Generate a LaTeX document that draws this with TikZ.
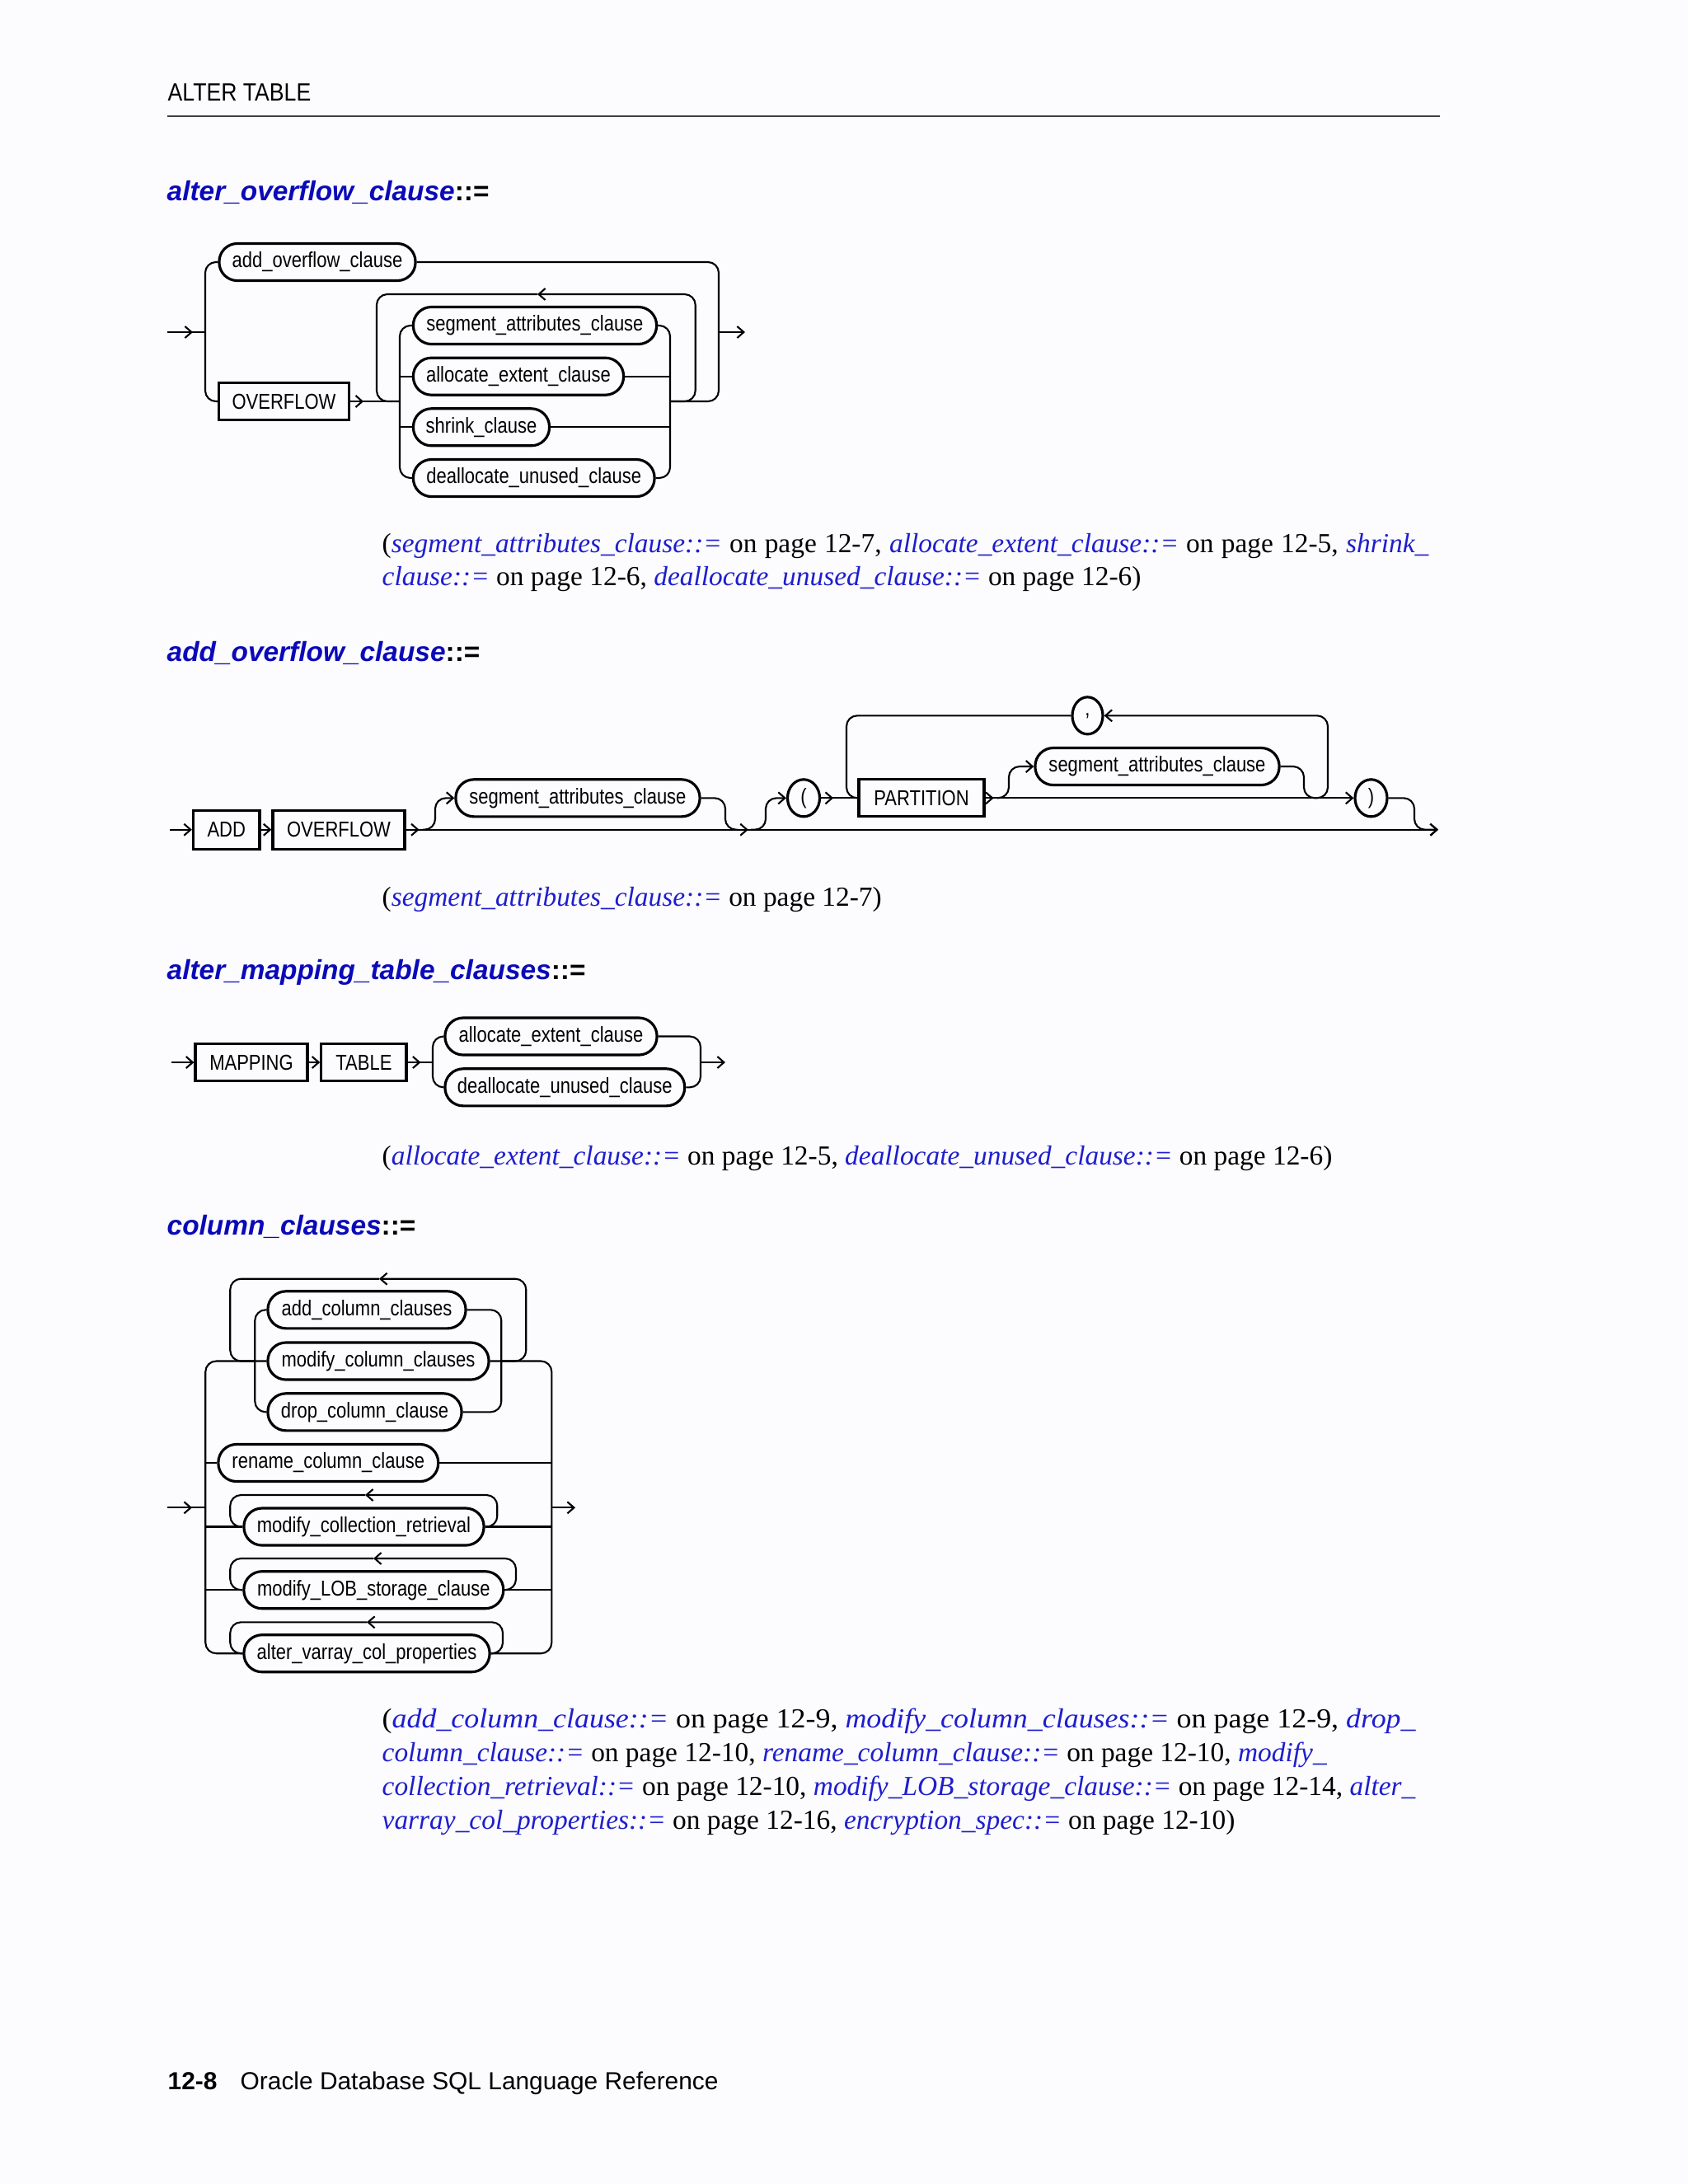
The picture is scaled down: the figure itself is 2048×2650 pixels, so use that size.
\documentclass[tikz,border=0pt]{standalone}
\usepackage{fontspec}
\usepackage{graphicx}
\setmainfont{Liberation Serif}
\newfontfamily\dfont[FakeStretch=0.84]{Liberation Sans}
\newfontfamily\nfont[FakeStretch=0.88]{Liberation Sans}
\newfontfamily\hfont{Liberation Sans}
\usetikzlibrary{arrows.meta,decorations.markings,shapes.geometric}
\definecolor{tblue}{RGB}{10,10,185}
\definecolor{lblue}{RGB}{30,30,205}
\definecolor{pagebg}{RGB}{252,251,253}
\newcommand{\lk}[1]{\textcolor{lblue}{\itshape #1}}
\tikzset{
  sb/.tip={Straight Barb[length=0.08cm,width=0.14cm]},
  conn/.style={line width=0.6pt, rounded corners=0.13cm},
  tip/.style={-sb},
  chev/.style={postaction={decorate,decoration={markings,mark=at position #1 with {\arrow{sb}}}}},
  lbl/.style={draw, font=\dfont\fontsize{7.45}{9}\selectfont, inner sep=0pt, minimum height=0.45cm, line width=0.9pt},
  nt/.style={lbl, rounded corners=0.22cm},
  kw/.style={lbl},
  pun/.style={lbl, ellipse, minimum width=0.39cm},
  ttl/.style={anchor=base west, inner sep=0pt, font=\hfont\bfseries\itshape\fontsize{9.5}{11}\selectfont},
  reftxt/.style={anchor=base west, inner sep=0pt, font=\rmfamily\fontsize{9.5}{11}\selectfont},
}
\begin{document}
\begin{tikzpicture}[x=0.01cm, y=-0.01cm]
\fill[pagebg] (0,0) rectangle (2048,2650);
\useasboundingbox (0,0) rectangle (2048,2650);

% header
\node[anchor=base west, inner sep=0pt, font=\nfont\fontsize{8.6}{10}\selectfont] (hdr) at (203,122) {ALTER TABLE};
\draw[line width=0.6pt, black!75] (203,141) -- (1747,141);

% ===== alter_overflow_clause =====
\node[ttl] (t1) at (202,243) {\textcolor{tblue}{alter\_overflow\_clause}{\upshape ::=}};

\node[nt, minimum width=2.38cm] (addov) at (385,318) {add\_overflow\_clause};
\node[kw, minimum width=1.58cm] (ovf) at (344.5,487) {OVERFLOW};
\node[nt, minimum width=2.95cm] (seg) at (649,395) {segment\_attributes\_clause};
\node[nt, minimum width=2.55cm] (alloc) at (629,456.7) {allocate\_extent\_clause};
\node[nt, minimum width=1.65cm] (shr) at (584,518.3) {shrink\_clause};
\node[nt, minimum width=2.925cm] (deal) at (647.75,580) {deallocate\_unused\_clause};

\coordinate (d1in) at (203,403);
\coordinate (d1L) at (249,403);
\coordinate (d1R) at (872,403);
\coordinate (d1out) at (904,403);
\coordinate (i1L) at (485,487);
\coordinate (i1R) at (813,487);
\coordinate (lp1R) at (843.7,357);
\coordinate (lp1A) at (652,357);
\coordinate (lp1L) at (457,487);

\draw[conn, chev=0.31cm] (d1in) -- (d1L);
\draw[conn] (addov.west) -| (d1L) |- (ovf.west);
\draw[conn] (addov.east) -| (d1R) |- (i1R);
\draw[conn, tip] (d1R) -- (d1out);
\draw[conn, chev=0.16cm] (ovf.east) -- (i1L);
\draw[conn] (seg.west) -| (i1L) |- (deal.west);
\draw[conn] (seg.east) -| (i1R) |- (deal.east);
\draw[conn] (i1L |- alloc) -- (alloc.west);
\draw[conn] (alloc.east) -- (i1R |- alloc);
\draw[conn] (i1L |- shr) -- (shr.west);
\draw[conn] (shr.east) -- (i1R |- shr);
\draw[conn, tip] (i1R) -| (lp1R) -- (lp1A);
\draw[conn] (lp1A) -| (lp1L) -- (i1L);

\node[reftxt] (r1a) at (463,670) {\makebox[12.69cm][s]{(\lk{segment\_attributes\_clause::=} on page 12-7, \lk{allocate\_extent\_clause::=} on page 12-5, \lk{shrink\_}}};
\node[reftxt] (r1b) at (463,710) {\lk{clause::=} on page 12-6, \lk{deallocate\_unused\_clause::=} on page 12-6)};

% ===== add_overflow_clause =====
\node[ttl] (t2) at (202,802) {\textcolor{tblue}{add\_overflow\_clause}{\upshape ::=}};

\node[kw, minimum width=0.805cm, minimum height=0.47cm] (add) at (274.75,1006.7) {ADD};
\node[kw, minimum width=1.60cm, minimum height=0.47cm] (ovf2) at (411,1006.7) {OVERFLOW};
\node[nt, minimum width=2.96cm] (seg1) at (701,968.3) {segment\_attributes\_clause};
\node[pun] (lp) at (975,968.3) {(};
\node[kw, minimum width=1.52cm] (part) at (1118,968.3) {PARTITION};
\node[pun, minimum width=0.37cm] (comma) at (1319.5,868.3) {,};
\node[nt, minimum width=2.96cm] (seg2) at (1404,930) {segment\_attributes\_clause};
\node[pun] (rp) at (1663.5,968.3) {)};

\coordinate (d2in) at (206,1006.7);
\coordinate (d2end) at (1745,1006.7);
\coordinate (s1a) at (513,1006.7);
\coordinate (s1v) at (528,968.3);
\coordinate (s1b) at (880,1006.7);
\coordinate (s1c) at (895,1006.7);
\coordinate (pa) at (911,1006.7);
\coordinate (pv) at (929,968.3);
\coordinate (cl) at (1027,968.3);
\coordinate (cj) at (1596,968.3);
\coordinate (cr) at (1611,868.3);
\coordinate (s2a) at (1210,968.3);
\coordinate (s2v) at (1224,930);
\coordinate (s2b) at (1582,968.3);
\coordinate (rv) at (1716,1006.7);

\draw[conn, tip] (d2in) -- (add.west);
\draw[conn, tip] (add.east) -- (ovf2.west);
\draw[conn, tip, chev=0.16cm, chev=4.15cm] (ovf2.east) -- (d2end);
\draw[conn, tip] (s1a) -| (s1v) -- (seg1.west);
\draw[conn] (seg1.east) -| (s1b) -- (s1c);
\draw[conn, tip] (pa) -| (pv) -- (lp.west);
\draw[conn, chev=0.15cm] (lp.east) -- (part.west);
\draw[conn] (comma.west) -| (cl) -- (part.west);
\draw[conn, tip] (cj) -| (cr) -- (comma.east);
\draw[conn, tip, chev=0.1cm] (part.east) -- (rp.west);
\draw[conn, tip] (s2a) -| (s2v) -- (seg2.west);
\draw[conn] (seg2.east) -| (s2b) -- (cj);
\draw[conn, tip] (rp.east) -| (rv) -- (d2end);

\node[reftxt] (r2) at (463,1099) {(\lk{segment\_attributes\_clause::=} on page 12-7)};

% ===== alter_mapping_table_clauses =====
\node[ttl] (t3) at (202,1188) {\textcolor{tblue}{alter\_mapping\_table\_clauses}{\upshape ::=}};

\node[kw, minimum width=1.36cm] (map) at (305,1289) {MAPPING};
\node[kw, minimum width=1.03cm] (tab) at (441.4,1289) {TABLE};
\node[nt, minimum width=2.57cm] (al3) at (668.5,1257.5) {allocate\_extent\_clause};
\node[nt, minimum width=2.906cm] (de3) at (685.3,1319.3) {deallocate\_unused\_clause};

\coordinate (d3in) at (208,1289);
\coordinate (d3L) at (525,1289);
\coordinate (d3R) at (850,1289);
\coordinate (d3out) at (880,1289);
\draw[conn, tip] (d3in) -- (map.west);
\draw[conn, tip] (map.east) -- (tab.west);
\draw[conn, chev=0.16cm] (tab.east) -- (d3L);
\draw[conn] (al3.west) -| (d3L) |- (de3.west);
\draw[conn] (al3.east) -| (d3R) |- (de3.east);
\draw[conn, tip] (d3R) -- (d3out);

\node[reftxt] (r3) at (463,1413) {(\lk{allocate\_extent\_clause::=} on page 12-5, \lk{deallocate\_unused\_clause::=} on page 12-6)};

% ===== column_clauses =====
\node[ttl] (t4) at (202,1498) {\textcolor{tblue}{column\_clauses}{\upshape ::=}};

\node[nt, minimum width=2.40cm] (acc) at (445,1589.3) {add\_column\_clauses};
\node[nt, minimum width=2.68cm] (mcc) at (459,1651.5) {modify\_column\_clauses};
\node[nt, minimum width=2.35cm] (dcc) at (442.5,1713.3) {drop\_column\_clause};
\node[nt, minimum width=2.667cm] (ren) at (398.3,1775) {rename\_column\_clause};
\node[nt, minimum width=2.91cm] (mcr) at (441.5,1852.5) {modify\_collection\_retrieval};
\node[nt, minimum width=3.147cm] (lob) at (453.3,1929.2) {modify\_LOB\_storage\_clause};
\node[nt, minimum width=2.98cm] (avc) at (445,2006.2) {alter\_varray\_col\_properties};

\coordinate (d4in) at (203,1829.3);
\coordinate (oL) at (249.3,1829.3);
\coordinate (oR) at (669.3,1829.3);
\coordinate (d4out) at (698,1829.3);
\coordinate (iL) at (309.3,1651.5);
\coordinate (iR) at (608.3,1651.5);
\coordinate (l1R) at (638.3,1551.7);
\coordinate (l1A) at (460,1551.7);
\coordinate (l1L) at (279.3,1651.5);
\coordinate (l2R) at (603.3,1814);
\coordinate (l2A) at (443,1814);
\coordinate (l3R) at (626,1891);
\coordinate (l3A) at (453,1891);
\coordinate (l4R) at (610,1968.3);
\coordinate (l4A) at (445,1968.3);
\coordinate (lx) at (279.3,1800);

\draw[conn, chev=0.30cm] (d4in) -- (oL);
\draw[conn, tip] (oR) -- (d4out);
\draw[conn] (mcc.west) -| (oL) |- (avc.west);
\draw[conn] (mcc.east) -| (oR) |- (avc.east);
\draw[conn] (oL |- ren) -- (ren.west);
\draw[conn] (ren.east) -- (oR |- ren);
\draw[conn] (oL |- mcr) -- (mcr.west);
\draw[conn] (mcr.east) -- (oR |- mcr);
\draw[conn] (oL |- lob) -- (lob.west);
\draw[conn] (lob.east) -- (oR |- lob);

\draw[conn] (acc.west) -| (iL) |- (dcc.west);
\draw[conn] (acc.east) -| (iR) |- (dcc.east);
\draw[conn, tip] (iR) -| (l1R) -- (l1A);
\draw[conn] (l1A) -| (l1L) -- (iL);

\draw[conn, tip] (mcr.east) -| (l2R) -- (l2A);
\draw[conn] (l2A) -| (lx |- mcr) -- (mcr.west);
\draw[conn, tip] (lob.east) -| (l3R) -- (l3A);
\draw[conn] (l3A) -| (lx |- lob) -- (lob.west);
\draw[conn, tip] (avc.east) -| (l4R) -- (l4A);
\draw[conn] (l4A) -| (lx |- avc) -- (avc.west);

\node[reftxt] (r4a) at (463,2096) {\scalebox{1.075}[1]{(\lk{add\_column\_clause::=} on page 12-9, \lk{modify\_column\_clauses::=} on page 12-9, \lk{drop\_}}};
\node[reftxt] (r4b) at (463,2137) {\lk{column\_clause::=} on page 12-10, \lk{rename\_column\_clause::=} on page 12-10, \lk{modify\_}};
\node[reftxt] (r4c) at (463,2178) {\lk{collection\_retrieval::=} on page 12-10, \lk{modify\_LOB\_storage\_clause::=} on page 12-14, \lk{alter\_}};
\node[reftxt] (r4d) at (463,2219) {\lk{varray\_col\_properties::=} on page 12-16, \lk{encryption\_spec::=} on page 12-10)};

% footer
\node[anchor=base west, inner sep=0pt, font=\hfont\bfseries\fontsize{8.5}{10}\selectfont] (fnum) at (203,2535) {12-8};
\node[anchor=base west, inner sep=0pt, font=\hfont\fontsize{8.5}{10}\selectfont] (ftxt) at (291,2535) {Oracle Database SQL Language Reference};
\end{tikzpicture}
\end{document}
